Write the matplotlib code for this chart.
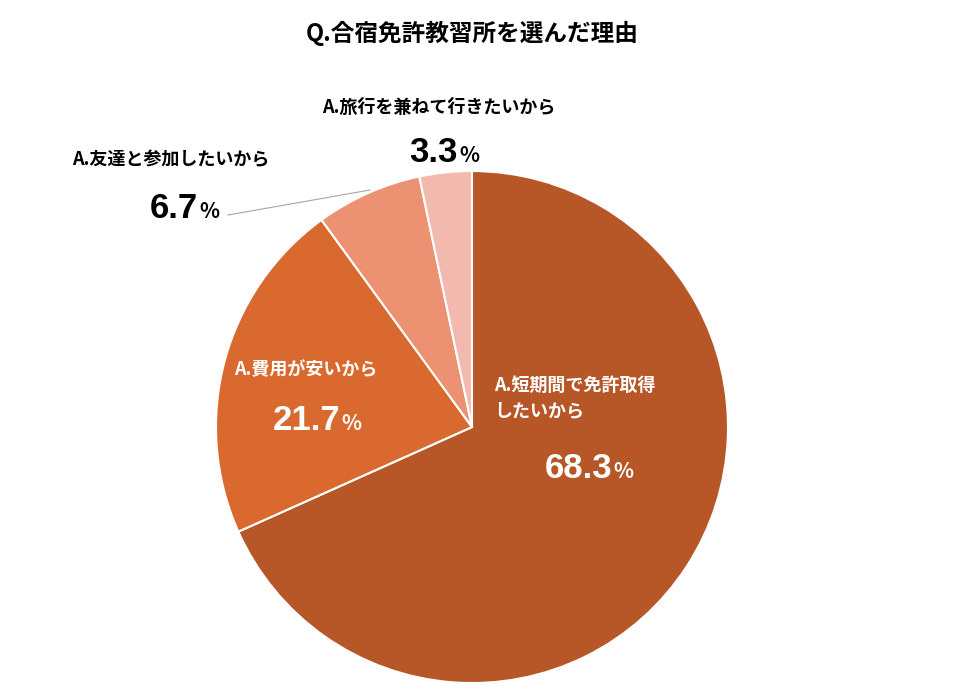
import matplotlib.pyplot as plt
from matplotlib.lines import Line2D

plt.rcParams['font.family'] = 'Noto Sans CJK JP'

labels = ['A.短期間で免許取得\nしたいから', 'A.費用が安いから', 'A.友達と参加したいから', 'A.旅行を兼ねて行きたいから']
values = [68.3, 21.7, 6.7, 3.3]
colors = ['#B75627', '#D9692E', '#EC9172', '#F2BAAE']

W, H = 957, 691
fig = plt.figure(figsize=(W / 100, H / 100), dpi=100)
ax = fig.add_axes([0.2257, 0.0115, 0.535, 0.741])
ax.pie(values, colors=colors, startangle=90, counterclock=False,
       wedgeprops=dict(edgecolor='white', linewidth=1.5))
ax.set_aspect('equal')
ax.set_xlim(-1, 1)
ax.set_ylim(-1, 1)
ax.axis('off')


def px(x, y):
    return x / W, 1 - y / H


fig.text(*px(472, 33), 'Q.合宿免許教習所を選んだ理由', ha='center', va='center',
         fontsize=17, fontweight='bold')

# label positions: (label x, label y, number right x, number y, text colour)
pos = [(494, 398, 612, 468, 'white'),
       (234, 370, 340, 420, 'white'),
       (72, 160, 198, 208, 'black'),
       (322, 107, 458, 152, 'black')]
for lab, v, (lx, ly, nx, ny, c) in zip(labels, values, pos):
    fig.text(*px(lx, ly), lab, ha='left', va='center', fontsize=13,
             fontweight='bold', color=c, linespacing=1.35, zorder=5)
    fig.text(*px(nx, ny), f'{v}', ha='right', va='center', fontsize=25,
             fontweight='bold', color=c, fontfamily='Liberation Sans', zorder=5)
    fig.text(*px(nx + 1, ny + 3), '%', ha='left', va='center', fontsize=15,
             fontweight='bold', color=c, zorder=5)

x0, y0 = px(228, 215)
x1, y1 = px(370, 190)
fig.add_artist(Line2D([x0, x1], [y0, y1], transform=fig.transFigure,
                      color='#A6A6A6', linewidth=0.8))

fig.savefig('out.png', dpi=100, facecolor='white')
